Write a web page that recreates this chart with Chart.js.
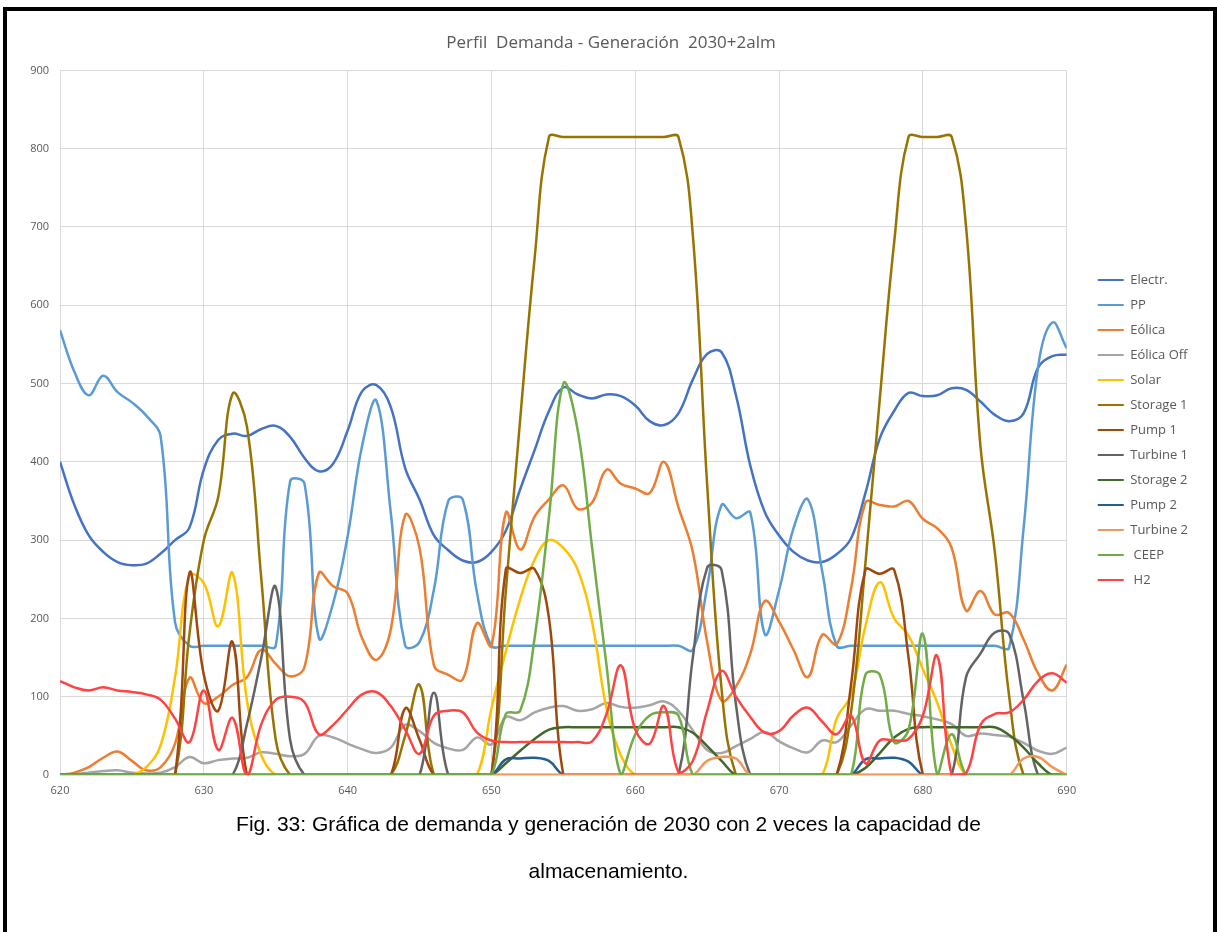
<!DOCTYPE html>
<html>
<head>
<meta charset="utf-8">
<script src="https://cdn.jsdelivr.net/npm/chart.js@4.4.0/dist/chart.umd.min.js"></script>
<style>
  html, body { margin: 0; padding: 0; background: #fff; }
  body { width: 1217px; height: 932px; position: relative; overflow: hidden; }
  #chart { position: absolute; left: 0; top: 0; }
  #frame { position: absolute; left: 3px; top: 7px; width: 1214px; height: 960px; border: 4px solid #000; box-sizing: border-box; pointer-events: none; }
  #caption { position: absolute; left: 0; top: 800px; width: 1217px; text-align: center;
             font-family: "Liberation Sans", Arial, sans-serif; font-size: 21px; line-height: 47px; color: #000; }
</style>
</head>
<body>
<canvas id="chart" width="1217" height="805"></canvas>
<div id="caption">Fig. 33: Gráfica de demanda y generación de 2030 con 2 veces la capacidad de<br>almacenamiento.</div>
<div id="frame"></div>
<script>
// hour index on the x axis
const hours = [620, 621, 622, 623, 624, 625, 626, 627, 628, 629,
               630, 631, 632, 633, 634, 635, 636, 637, 638, 639,
               640, 641, 642, 643, 644, 645, 646, 647, 648, 649,
               650, 651, 652, 653, 654, 655, 656, 657, 658, 659,
               660, 661, 662, 663, 664, 665, 666, 667, 668, 669,
               670, 671, 672, 673, 674, 675, 676, 677, 678, 679,
               680, 681, 682, 683, 684, 685, 686, 687, 688, 689,
               690];

const electr = [400, 345, 306, 285, 272, 268, 270, 283, 300, 316,
                390, 428, 436, 433, 442, 446, 432, 405, 388, 398,
                440, 490, 498, 470, 392, 352, 306, 287, 274, 272,
                285, 312, 365, 415, 465, 495, 486, 481, 486, 484,
                472, 452, 447, 462, 505, 538, 540, 485, 395, 336,
                306, 285, 274, 272, 282, 302, 360, 430, 465, 488,
                484, 485, 494, 492, 477, 460, 452, 462, 520, 535,
                537];
const pp = [568, 515, 485, 510, 489, 476, 459, 432, 195, 165,
            165, 165, 165, 165, 165, 165, 375, 372, 175, 220,
            305, 420, 478, 335, 165, 170, 237, 350, 352, 232,
            165, 165, 165, 165, 165, 165, 165, 165, 165, 165,
            165, 165, 165, 165, 160, 240, 345, 328, 335, 180,
            236, 315, 352, 260, 165, 165, 165, 165, 165, 165,
            165, 165, 165, 165, 165, 165, 163, 315, 520, 578,
            545];
const eolica = [0, 3, 10, 22, 30, 18, 6, 10, 40, 124,
                92, 100, 115, 125, 160, 142, 126, 138, 258, 241,
                232, 175, 147, 186, 332, 290, 140, 128, 122, 194,
                165, 335, 288, 330, 352, 370, 340, 348, 390, 372,
                366, 360, 400, 342, 285, 170, 95, 113, 155, 222,
                196, 160, 125, 179, 167, 238, 348, 345, 343, 350,
                327, 315, 290, 210, 235, 205, 207, 173, 130, 108,
                141];
const eolicaOff = [0, 1, 3, 5, 6, 3, 2, 3, 10, 23,
                   15, 19, 21, 22, 29, 27, 24, 27, 50, 48,
                   40, 33, 28, 35, 64, 56, 41, 34, 32, 48,
                   39, 74, 70, 80, 86, 88, 82, 84, 92, 87,
                   86, 89, 94, 82, 57, 32, 28, 37, 46, 55,
                   43, 34, 29, 44, 42, 63, 84, 82, 82, 78,
                   75, 71, 65, 50, 53, 51, 49, 41, 31, 27,
                   35];
const solar = [0, 0, 0, 0, 0, 0, 10, 38, 125, 255,
               245, 190, 258, 95, 25, 0, 0, 0, 0, 0,
               0, 0, 0, 0, 0, 0, 0, 0, 0, 0,
               85, 158, 225, 275, 300, 290, 262, 195, 85, 25,
               0, 0, 0, 0, 0, 0, 0, 0, 0, 0,
               0, 0, 0, 0, 72, 102, 190, 246, 200, 178,
               135, 92, 38, 0, 0, 0, 0, 0, 0, 0,
               0];
const storage1 = [0, 0, 0, 0, 0, 0, 0, 0, 0, 180,
                  300, 355, 487, 445, 250, 45, 0, 0, 0, 0,
                  0, 0, 0, 0, 50, 115, 0, 0, 0, 0,
                  0, 235, 455, 660, 815, 815, 815, 815, 815, 815,
                  815, 815, 815, 815, 690, 370, 110, 0, 0, 0,
                  0, 0, 0, 0, 0, 80, 270, 480, 680, 815,
                  815, 815, 815, 700, 420, 285, 100, 0, 0, 0,
                  0];
const pump1 = [0, 0, 0, 0, 0, 0, 0, 0, 0, 258,
               128, 82, 170, 0, 0, 0, 0, 0, 0, 0,
               0, 0, 0, 0, 85, 45, 0, 0, 0, 0,
               0, 263, 258, 263, 200, 0, 0, 0, 0, 0,
               0, 0, 0, 0, 0, 0, 0, 0, 0, 0,
               0, 0, 0, 0, 0, 115, 262, 257, 262, 150,
               0, 0, 0, 0, 0, 0, 0, 0, 0, 0,
               0];
const turbine1 = [0, 0, 0, 0, 0, 0, 0, 0, 0, 0,
                  0, 0, 0, 65, 150, 240, 45, 0, 0, 0,
                  0, 0, 0, 0, 0, 0, 105, 0, 0, 0,
                  0, 0, 0, 0, 0, 0, 0, 0, 0, 0,
                  0, 0, 0, 0, 150, 265, 262, 90, 0, 0,
                  0, 0, 0, 0, 0, 0, 0, 0, 0, 0,
                  0, 0, 0, 125, 155, 182, 180, 95, 0, 0,
                  0];
const storage2 = [0, 0, 0, 0, 0, 0, 0, 0, 0, 0,
                  0, 0, 0, 0, 0, 0, 0, 0, 0, 0,
                  0, 0, 0, 0, 0, 0, 0, 0, 0, 0,
                  0, 15, 31, 46, 58, 61, 61, 61, 61, 61,
                  61, 61, 61, 61, 54, 37, 18, 0, 0, 0,
                  0, 0, 0, 0, 0, 0, 9, 28, 48, 59,
                  61, 61, 61, 61, 61, 61, 51, 35, 15, 0,
                  0];
const pump2 = [0, 0, 0, 0, 0, 0, 0, 0, 0, 0,
               0, 0, 0, 0, 0, 0, 0, 0, 0, 0,
               0, 0, 0, 0, 0, 0, 0, 0, 0, 0,
               0, 20, 21, 22, 18, 0, 0, 0, 0, 0,
               0, 0, 0, 0, 0, 0, 0, 0, 0, 0,
               0, 0, 0, 0, 0, 0, 20, 21, 22, 17,
               0, 0, 0, 0, 0, 0, 0, 0, 0, 0,
               0];
const turbine2 = [0, 0, 0, 0, 0, 0, 0, 0, 0, 0,
                  0, 0, 0, 0, 0, 0, 0, 0, 0, 0,
                  0, 0, 0, 0, 0, 0, 0, 0, 0, 0,
                  0, 0, 0, 0, 0, 0, 0, 0, 0, 0,
                  0, 0, 0, 0, 0, 18, 23, 21, 0, 0,
                  0, 0, 0, 0, 0, 0, 0, 0, 0, 0,
                  0, 0, 0, 0, 0, 0, 0, 21, 23, 10,
                  0];
const ceep = [0, 0, 0, 0, 0, 0, 0, 0, 0, 0,
              0, 0, 0, 0, 0, 0, 0, 0, 0, 0,
              0, 0, 0, 0, 0, 0, 0, 0, 0, 0,
              0, 78, 82, 175, 330, 500, 440, 290, 140, 0,
              52, 76, 80, 76, 0, 0, 0, 0, 0, 0,
              0, 0, 0, 0, 0, 0, 128, 128, 42, 58,
              180, 0, 52, 0, 0, 0, 0, 0, 0, 0,
              0];
const h2 = [120, 112, 108, 112, 108, 106, 103, 96, 72, 42,
            108, 32, 73, 0, 65, 96, 100, 93, 52, 64,
            84, 103, 106, 88, 58, 27, 76, 82, 80, 54,
            44, 42, 42, 42, 42, 42, 42, 43, 78, 140,
            58, 40, 88, 4, 18, 82, 133, 100, 74, 54,
            56, 76, 86, 68, 52, 76, 15, 44, 44, 46,
            76, 152, 0, 2, 64, 78, 80, 96, 120, 130,
            118];

const seriesNames = ['Electr.', 'PP', 'Eólica', 'Eólica Off', 'Solar', 'Storage 1', 'Pump 1',
                     'Turbine 1', 'Storage 2', 'Pump 2', 'Turbine 2', ' CEEP', ' H2'];
const seriesValues = [electr, pp, eolica, eolicaOff, solar, storage1, pump1,
                      turbine1, storage2, pump2, turbine2, ceep, h2];
const seriesColors = ['#4472C4', '#5B9BD5', '#ED7D31', '#A5A5A5', '#FFC000', '#997300', '#9E480E',
                      '#636363', '#43682B', '#255E91', '#F1975A', '#70AD47', '#FF4343'];

Chart.defaults.font.family = '"Open Sans", sans-serif';
const grey = '#595959';
const gridColor = '#D9D9D9';

const datasets = seriesValues.map((vals, i) => ({
  label: seriesNames[i],
  data: hours.map((h, j) => ({ x: h, y: vals[j] })),
  borderColor: seriesColors[i],
  backgroundColor: seriesColors[i],
  borderWidth: 2.5,
  pointRadius: 0,
  tension: 0.4,
  fill: false,
  order: seriesValues.length - 1 - i   // last series drawn on top, like Excel
}));

// move title and legend a little to sit where the original has them
const nudge = {
  id: 'nudge',
  afterLayout(chart) {
    const lg = chart.legend;
    lg.left += 19; lg.right += 19;
    lg.top += 23; lg.bottom += 23;
    const t = chart.titleBlock;
    t.left += 14; t.right += 14;
  }
};

new Chart(document.getElementById('chart').getContext('2d'), {
  type: 'line',
  data: { datasets },
  plugins: [nudge],
  options: {
    responsive: false,
    animation: false,
    layout: { padding: { left: 15, right: 38, top: 14, bottom: 5 } },
    plugins: {
      title: {
        display: true,
        text: 'Perfil  Demanda - Generación  2030+2alm',
        color: grey,
        font: { size: 17, weight: 'normal' },
        padding: { top: 19, bottom: 17 }
      },
      legend: {
        position: 'right',
        labels: {
          boxWidth: 26,
          boxHeight: 2,
          padding: 12,
          color: grey,
          font: { size: 13 },
          sort: (a, b) => a.datasetIndex - b.datasetIndex,
          generateLabels(chart) {
            const items = Chart.defaults.plugins.legend.labels.generateLabels(chart);
            items.forEach(it => { it.fillStyle = it.strokeStyle; it.lineWidth = 0; });
            return items;
          }
        }
      },
      tooltip: { enabled: false }
    },
    scales: {
      x: {
        type: 'linear',
        min: 620,
        max: 690,
        ticks: { stepSize: 10, color: grey, font: { size: 11 }, padding: 9 },
        grid: { color: gridColor, drawTicks: false },
        border: { color: gridColor },
        afterFit: s => { s.height = 25; }
      },
      y: {
        min: 0,
        max: 900,
        ticks: { stepSize: 100, color: grey, font: { size: 11 }, padding: 11 },
        grid: { color: gridColor, drawTicks: false },
        border: { color: gridColor },
        afterFit: s => { s.width = 45; }
      }
    }
  }
});
</script>
</body>
</html>
